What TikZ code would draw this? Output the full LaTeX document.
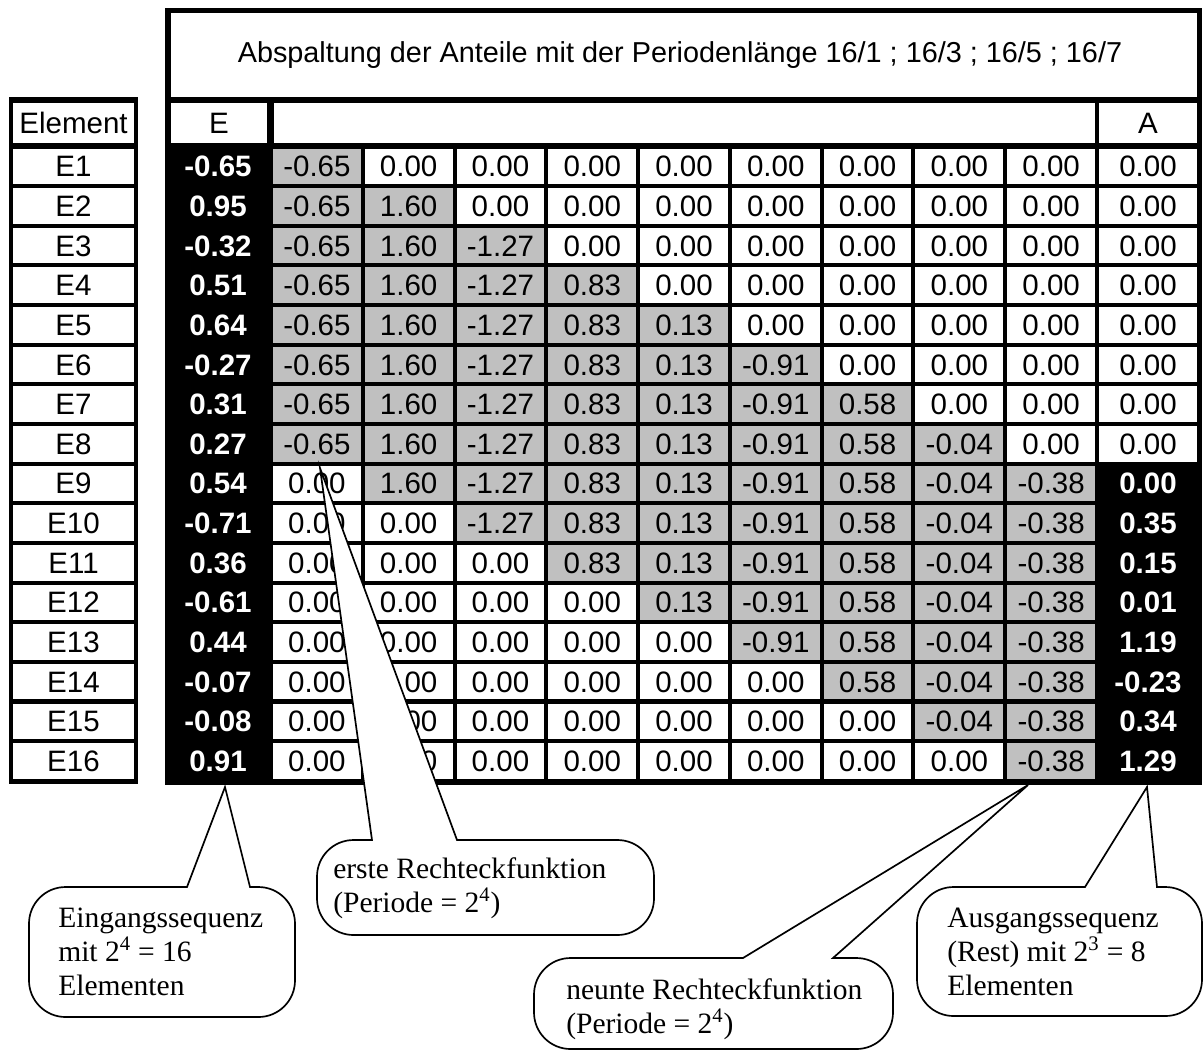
\documentclass[tikz,border=0pt]{standalone}
\usepackage{fontspec}
\setmainfont{Liberation Serif}
\setsansfont{Liberation Sans}
\definecolor{cellgray}{RGB}{192,192,192}
\tikzstyle{num} = [font={\sffamily\fontsize{21}{25}\selectfont}, inner sep=0pt, anchor=base]
\tikzstyle{inv} = [num, font={\sffamily\bfseries\fontsize{21}{25}\selectfont}, text=white]
\tikzstyle{bubble} = [draw=black, fill=white, line width=1.2pt, line join=miter]
\tikzstyle{note} = [font={\rmfamily\fontsize{21}{24}\selectfont}, inner sep=0pt, anchor=base west, align=left]

\begin{document}
\begin{tikzpicture}[x=0.25mm,y=-0.25mm]
    \useasboundingbox (0,0) rectangle (1204,1052);
    % element names
    \fill (9,97) rectangle (138,784);
    \fill[white] (13,103) rectangle (134,143);
    \node[num](elem) at (73.5,133.5){Element};
    % main table
    \fill (165,8) rectangle (1202,785);
    \fill[white] (171,13) rectangle (1197,97);
    \node[num,font={\sffamily\fontsize{20.5}{25}\selectfont}](title) at (680,62){Abspaltung der Anteile mit der Periodenlänge 16/1 ; 16/3 ; 16/5 ; 16/7};
    \fill[white] (171,103) rectangle (267,143);
    \fill[white] (274,103) rectangle (1095,143);
    \fill[white] (1099,103) rectangle (1197,143);
    \node[num](ehead) at (219,133.5){E};
    \node[num](ahead) at (1148,133.5){A};
    \foreach \inval/\outval [count=\r] in {-0.65/0.00,0.95/0.00,-0.32/0.00,0.51/0.00,0.64/0.00,-0.27/0.00,0.31/0.00,0.27/0.00,0.54/0.00,-0.71/0.35,0.36/0.15,-0.61/0.01,0.44/1.19,-0.07/-0.23,-0.08/0.34,0.91/1.29}{
      \pgfmathsetmacro\yt{148.5+39.65*(\r-1)}
      \pgfmathsetmacro\yb{\yt+28.25}
      \fill[white] (13,\yt) rectangle (134,\yt+35.5);
      \node[num](name\r) at (73.5,\yb){E\r};
      \node[inv](in\r) at (218,\yb){\inval};
      \ifnum\r>8
        \node[inv](out\r) at (1148,\yb){\outval};
      \else
        \fill[white] (1099,\yt) rectangle (1197,\yt+35.5);
        \node[num](out\r) at (1148,\yb){\outval};
      \fi
      \foreach \v [count=\c] in {-0.65,1.60,-1.27,0.83,0.13,-0.91,0.58,-0.04,-0.38}{
        \pgfmathsetmacro\xl{273+91.78*(\c-1)}
        \pgfmathsetmacro\xr{\xl+87.8}
        \pgfmathtruncatemacro\shade{and(\c<=\r,\r-\c<8)}
        \ifnum\shade=1
          \fill[cellgray] (\xl,\yt) rectangle (\xr,\yt+35.5);
          \node[num](c\r-\c) at (\xl+43.9,\yb){\v};
        \else
          \fill[white] (\xl,\yt) rectangle (\xr,\yt+35.5);
          \node[num](c\r-\c) at (\xl+43.9,\yb){0.00};
        \fi
      }
    }
    % callouts
    \draw[bubble] (187,887) -- (225,787) -- (250,887) [rounded corners=26] -- (295,887) -- (295,1017) -- (29,1017) -- (29,887) [sharp corners] -- cycle;
    \draw[bubble] (372,840) -- (320,468) -- (457,840) [rounded corners=26] -- (654,840) -- (654,935) -- (317,935) -- (317,840) [sharp corners] -- cycle;
    \draw[bubble] (743,958) -- (1028,785) -- (833,958) [rounded corners=26] -- (893,958) -- (893,1049) -- (534,1049) -- (534,958) [sharp corners] -- cycle;
    \draw[bubble] (1085,887) -- (1147,787) -- (1157,887) [rounded corners=26] -- (1202,887) -- (1202,1016) -- (917,1016) -- (917,887) [sharp corners] -- cycle;
    \node[note](eing) at (58,995){Eingangssequenz\\mit 2\textsuperscript{4} = 16\\Elementen};
    \node[note](erste) at (333,912){erste Rechteckfunktion\\(Periode = 2\textsuperscript{4})};
    \node[note](neunte) at (566,1033){neunte Rechteckfunktion\\(Periode = 2\textsuperscript{4})};
    \node[note](ausg) at (947,995){Ausgangssequenz\\(Rest) mit 2\textsuperscript{3} = 8\\Elementen};
  \end{tikzpicture}
\end{document}
